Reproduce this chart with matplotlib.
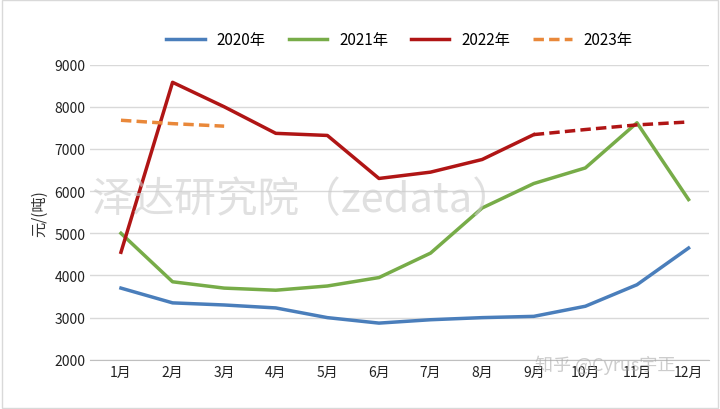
import matplotlib
matplotlib.use("Agg")
import matplotlib.pyplot as plt

plt.rcParams['font.family'] = ['Noto Sans CJK SC', 'DejaVu Sans']

months = ["1月", "2月", "3月", "4月", "5月", "6月", "7月", "8月", "9月", "10月", "11月", "12月"]
y2020 = [3700, 3350, 3300, 3230, 3000, 2870, 2950, 3000, 3030, 3270, 3780, 4650]
y2021 = [5000, 3850, 3700, 3650, 3750, 3950, 4530, 5600, 6180, 6550, 7620, 5800]
y2022 = [4550, 8580, 8000, 7370, 7320, 6300, 6450, 6750, 7340]
y2022_fc = [7340, 7460, 7570, 7640]
y2023 = [7680, 7600, 7540]

x = list(range(12))

fig = plt.figure(figsize=(7.2, 4.1), dpi=100)
ax = fig.add_axes([0.125, 0.12, 0.86, 0.72])

ax.plot(x, y2020, color="#4a7ebb", lw=2.5, label="2020年")
ax.plot(x, y2021, color="#77ac48", lw=2.5, label="2021年")
ax.plot(x[:9], y2022, color="#b01515", lw=2.5, label="2022年")
ax.plot(x[8:], y2022_fc, color="#b01515", lw=2.5, ls=(0, (3, 1.5)))
ax.plot(x[:3], y2023, color="#e9883a", lw=2.5, ls=(0, (3, 1.5)), label="2023年")

ax.set_ylim(2000, 9000)
ax.set_yticks(range(2000, 9001, 1000))
ax.set_xlim(-0.6, 11.4)
ax.set_xticks(x)
ax.set_xticklabels(months)
ax.tick_params(length=0, labelsize=10, colors="#222222")
ax.grid(axis="y", color="#d9d9d9", lw=1)
ax.set_axisbelow(True)
for s in ["top", "right"]:
    ax.spines[s].set_visible(False)
ax.spines["left"].set_visible(False)
ax.spines["bottom"].set_color("#bfbfbf")
ax.set_ylabel("元/(吨)", fontsize=11, color="#333333")

ax.legend(loc="lower center", bbox_to_anchor=(0.5, 1.01), ncol=4, frameon=False,
          fontsize=11, handlelength=2.5, columnspacing=1.5)

fig.text(0.42, 0.51, "泽达研究院（zedata）", fontsize=30, color="#cccccc", alpha=0.6,
         ha="center", va="center")
fig.text(0.84, 0.11, "知乎 @Cyrus宇正", fontsize=13, color="#aaaaaa", alpha=0.6,
         ha="center", va="center")

fig.patches.append(plt.Rectangle((0.003, 0.003), 0.994, 0.994, transform=fig.transFigure,
                                 fill=False, edgecolor="#d9d9d9", lw=1))

fig.savefig("out.png", dpi=100)
